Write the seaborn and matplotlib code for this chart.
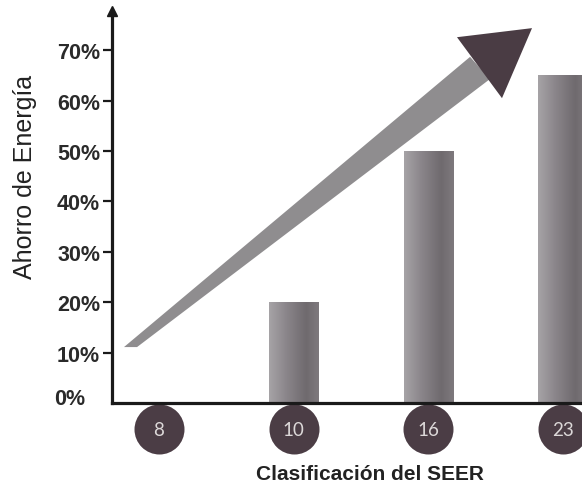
import numpy as np
import pandas as pd
import matplotlib
matplotlib.use("Agg")
import matplotlib.pyplot as plt
from matplotlib.colors import LinearSegmentedColormap
import seaborn as sns

# ---- data ----
seer_labels = ["8", "10", "16", "23"]
savings_pct = [0, 20, 50, 65]
y_ticks = [10, 20, 30, 40, 50, 60, 70]
y_tick_labels = ["10%", "20%", "30%", "40%", "50%", "60%", "70%"]
# decorative trend arrow (category-index, percent)
trend_shaft_x = [-0.26, -0.163, 2.457, 2.309]
trend_shaft_y = [11.1, 11.1, 64.3, 68.7]
trend_head_x = [2.212, 2.769, 2.546]
trend_head_y = [72.6, 74.4, 60.5]

sns.set_style("white")
plt.rcParams["font.family"] = ["Liberation Sans", "DejaVu Sans"]

fig = plt.figure(figsize=(5.82, 4.85), dpi=100)
ax = fig.add_axes([112 / 582, 81 / 485, 470 / 582, 392 / 485])

df = pd.DataFrame({"seer": seer_labels, "ahorro": savings_pct})
sns.barplot(data=df, x="seer", y="ahorro", order=seer_labels, color="#858085",
            width=0.37, saturation=1, ax=ax, zorder=2)

# gradient fill on bars
cmap = LinearSegmentedColormap.from_list(
    "bar", [(0, "#a6a3a6"), (0.35, "#8a858a"), (0.75, "#6f6a6e"), (1.0, "#7e797d")])
grad = np.linspace(0, 1, 64).reshape(1, -1)
for p in list(ax.patches):
    h = p.get_height()
    if h <= 0:
        continue
    x0 = p.get_x(); w = p.get_width()
    im = ax.imshow(grad, cmap=cmap, aspect="auto", extent=[x0, x0 + w, 0, h],
                   zorder=2.5, interpolation="bicubic")
    im.set_clip_path(p)

# trend arrow
ax.fill(trend_shaft_x, trend_shaft_y, color="#8f8d8f", zorder=3, lw=0)
ax.fill(trend_head_x, trend_head_y, color="#4a3c44", zorder=4, lw=0)

ax.set_xlim(-0.349, 3.14)
ax.set_ylim(0, 77.8)

# axes styling
for s in ["top", "right"]:
    ax.spines[s].set_visible(False)
for s in ["left", "bottom"]:
    ax.spines[s].set_linewidth(2.3)
    ax.spines[s].set_color("#1a1a1a")
    ax.spines[s].set_zorder(5)
ax.plot(0, 1, marker="^", color="#1a1a1a", markersize=7, transform=ax.transAxes,
        clip_on=False, zorder=6)

ax.set_yticks(y_ticks)
ax.set_yticklabels(y_tick_labels, fontsize=15.5, fontweight="bold", color="#2a2a2a")
ax.tick_params(axis="y", direction="out", length=6.5, width=1.6, color="#1a1a1a",
               pad=2, left=True)
ax.text(-0.089, 0.8, "0%", transform=ax.get_yaxis_transform(), ha="center", va="center",
        fontsize=15.5, fontweight="bold", color="#2a2a2a")

ax.set_xticks([])
ax.set_xlabel("Clasificación del SEER", fontsize=15, fontweight="bold", color="#222222")
ax.xaxis.set_label_coords(0.549, -0.156)
ax.set_ylabel("Ahorro de Energía", fontsize=18, color="#222222")
ax.yaxis.set_label_coords(-0.16, 0.579)

# category badges
ypos = -5.2
ax.scatter(range(len(seer_labels)), [ypos] * len(seer_labels), s=1296,
           color="#4b3d45", clip_on=False, zorder=1, linewidths=0)
for i, lab in enumerate(seer_labels):
    ax.text(i, ypos, lab, ha="center", va="center", fontsize=13.5,
            color="#dcd8d8", family=["Lato", "DejaVu Sans"], clip_on=False, zorder=7)

fig.savefig("out.png", dpi=100, facecolor="white")
